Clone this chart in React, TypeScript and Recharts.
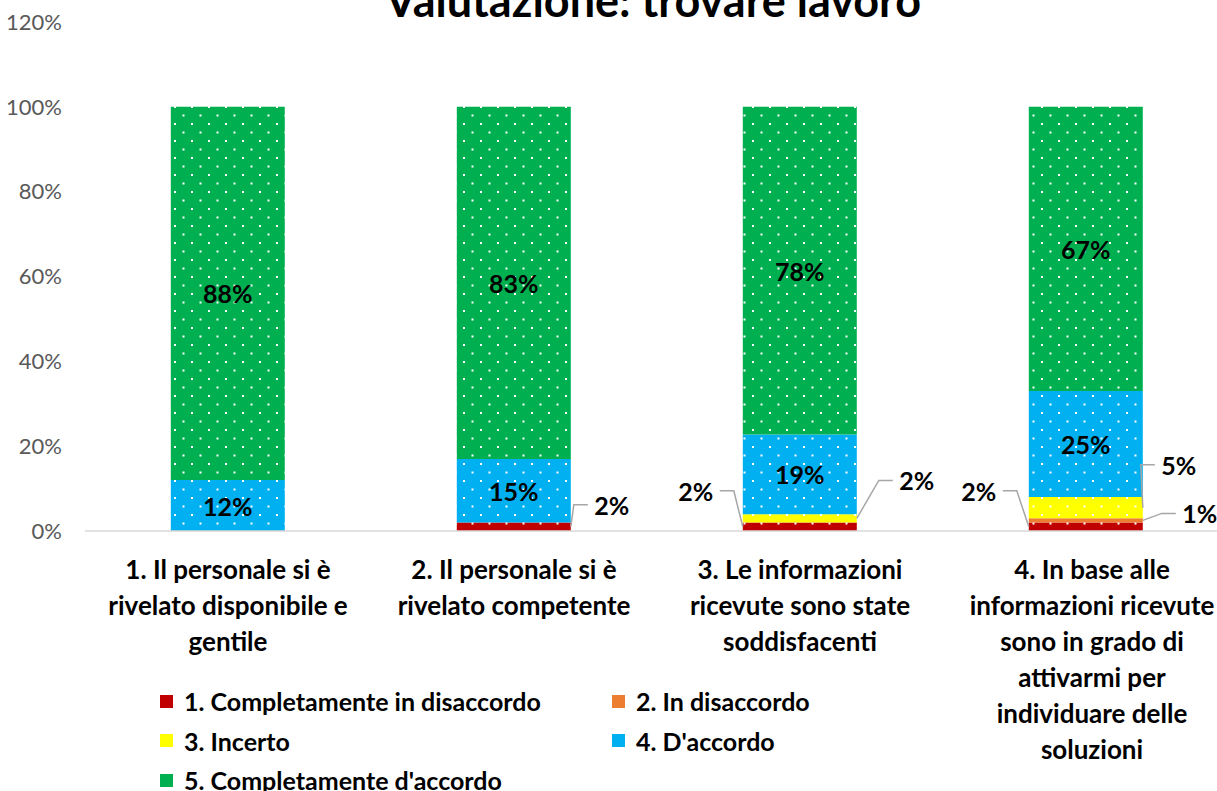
import React from "react";
import { BarChart, Bar, XAxis, YAxis, LabelList, Legend } from "recharts";

const categories = [
  "1. Il personale si è rivelato disponibile e gentile",
  "2. Il personale si è rivelato competente",
  "3. Le informazioni ricevute sono state soddisfacenti",
  "4. In base alle informazioni ricevute sono in grado di attivarmi per individuare delle soluzioni",
];

const tickLines = [
  ["1. Il personale si è", "rivelato disponibile e", "gentile"],
  ["2. Il personale si è", "rivelato competente"],
  ["3. Le informazioni", "ricevute sono state", "soddisfacenti"],
  ["4. In base alle", "informazioni ricevute", "sono in grado di", "attivarmi per", "individuare delle", "soluzioni"],
];

const seriesNames = [
  "1. Completamente in disaccordo",
  "2. In disaccordo",
  "3. Incerto",
  "4. D'accordo",
  "5. Completamente d'accordo",
];

const completamenteDisaccordo = [0, 2, 2, 2];
const inDisaccordo = [0, 0, 0, 1];
const incerto = [0, 0, 2, 5];
const dAccordo = [12, 15, 19, 25];
const completamenteAccordo = [88, 83, 78, 67];

const yTicks = [0, 20, 40, 60, 80, 100, 120];

const COLORS = ["#C00000", "#ED7D31", "#FFFF00", "#00B0F0", "#00B050"];
const KEYS = ["s1", "s2", "s3", "s4", "s5"];

// 100% stacked: bar heights are normalised per category, labels show the read values
const data = categories.map((name, i) => {
  const raw = [
    completamenteDisaccordo[i],
    inDisaccordo[i],
    incerto[i],
    dAccordo[i],
    completamenteAccordo[i],
  ];
  const tot = raw.reduce((a, b) => a + b, 0);
  const row: any = { name };
  KEYS.forEach((k, j) => {
    row[k] = (raw[j] / tot) * 100;
    row["r" + k] = raw[j];
  });
  return row;
});

const FONT = "Lato, 'Open Sans', sans-serif";

// small segments get their label outside the bar, with a leader line
const outside: { [k: string]: { dx: number; dy: number } } = {
  "0-1": { dx: 41, dy: -22 },
  "0-2": { dx: -47, dy: -36 },
  "2-2": { dx: 60, dy: -38 },
  "0-3": { dx: -50, dy: -36 },
  "1-3": { dx: 57, dy: -7 },
  "2-3": { dx: 36, dy: -43 },
};

const makeLabel = (s: number) => (props: any) => {
  const { x, y, width, height, value } = props;
  const [ci, raw] = String(value).split("|");
  let idx = Number(ci);
  if (!(idx >= 0)) idx = Math.floor((x - 85) / 286);
  const v = Number(raw);
  if (!v) return null;
  const text = `${v}%`;
  const pos = outside[`${s}-${idx}`];
  if (!pos) {
    return (
      <text
        x={x + width / 2}
        y={y + height / 2}
        textAnchor="middle"
        dominantBaseline="central"
        fontFamily={FONT}
        fontWeight={700}
        fontSize={25}
        fill="#000"
      >
        {text}
      </text>
    );
  }
  const side = pos.dx > 0 ? 1 : -1;
  const ax = side > 0 ? x + width : x;
  const ay = y + height / 2;
  const lx = ax + pos.dx;
  const ly = ay + pos.dy;
  const edge = lx - side * 24;
  const elbow = edge - side * 14;
  return (
    <g>
      <polyline
        points={`${ax},${ay} ${elbow},${ly} ${edge},${ly}`}
        fill="none"
        stroke="#A6A6A6"
        strokeWidth={1.5}
      />
      <text
        x={lx}
        y={ly}
        textAnchor="middle"
        dominantBaseline="central"
        fontFamily={FONT}
        fontWeight={700}
        fontSize={25}
        fill="#000"
      >
        {text}
      </text>
    </g>
  );
};

const CategoryTick = (props: any) => {
  const { x, y, index } = props;
  const lines = tickLines[index] || [];
  const shift = index === 3 ? 6 : 0;
  return (
    <g>
      {lines.map((l, i) => (
        <text
          key={i}
          x={x + shift}
          y={y + 30 + i * 36}
          textAnchor="middle"
          dominantBaseline="central"
          fontFamily={FONT}
          fontWeight={700}
          fontSize={26}
          fill="#000"
        >
          {l}
        </text>
      ))}
    </g>
  );
};

const LegendContent = () => (
  <div style={{ position: "relative", width: 700, height: 110, fontFamily: FONT }}>
    {seriesNames.map((n, i) => (
      <div
        key={n}
        style={{
          position: "absolute",
          left: (i % 2) * 452,
          top: Math.floor(i / 2) * 39.5,
          height: 30,
          lineHeight: "30px",
          display: "flex",
          alignItems: "center",
          fontWeight: 700,
          fontSize: 25,
          color: "#000",
          whiteSpace: "nowrap",
        }}
      >
        <span
          style={{
            display: "inline-block",
            width: 13,
            height: 13,
            background: COLORS[i],
            marginRight: 11,
          }}
        />
        {n}
      </div>
    ))}
  </div>
);

export default function App() {
  return (
    <div
      style={{
        position: "absolute",
        left: 0,
        top: 0,
        width: 1217,
        height: 791,
        overflow: "hidden",
        background: "#fff",
      }}
    >
      <div
        style={{
          position: "absolute",
          left: 0,
          width: 1306,
          top: -27,
          textAlign: "center",
          fontFamily: FONT,
          fontWeight: 700,
          fontSize: 45,
          color: "#000",
          zIndex: 2,
          whiteSpace: "nowrap",
        }}
      >
        Valutazione: trovare lavoro
      </div>
      <BarChart
        width={1240}
        height={791}
        data={data}
        margin={{ top: 22, right: 11, bottom: 0, left: 0 }}
        barCategoryGap="30%"
      >
        <defs>
          {COLORS.map((c, i) => (
            <pattern
              key={c}
              id={`dots${i}`}
              width={17}
              height={17}
              patternUnits="userSpaceOnUse"
            >
              <rect width={17} height={17} fill={c} />
              <rect x={4} y={4} width={2} height={2} fill="#fff" />
              <rect x={12.5} y={12.5} width={2} height={2} fill="#fff" />
            </pattern>
          ))}
        </defs>
        <XAxis
          dataKey="name"
          height={260}
          interval={0}
          tickLine={false}
          axisLine={{ stroke: "#D9D9D9", strokeWidth: 1.5 }}
          tick={<CategoryTick />}
        />
        <YAxis
          width={85}
          domain={[0, 120]}
          ticks={yTicks}
          axisLine={false}
          tickLine={false}
          tickSize={0}
          tickMargin={23}
          tickFormatter={(v: number) => `${v}%`}
          tick={{ fontFamily: FONT, fontSize: 22, fill: "#595959" }}
        />
        <Legend
          layout="horizontal"
          verticalAlign="middle"
          wrapperStyle={{ left: 160, top: 686, width: 700 }}
          content={<LegendContent />}
        />
        {KEYS.map((k, i) => (
          <Bar
            key={k}
            dataKey={k}
            name={seriesNames[i]}
            stackId="a"
            fill={`url(#dots${i})`}
            isAnimationActive={false}
          >
            <LabelList
              valueAccessor={(entry: any) =>
                `${categories.indexOf(entry?.payload?.name)}|${entry?.payload?.["r" + k]}`
              }
              content={makeLabel(i)}
            />
          </Bar>
        ))}
      </BarChart>
    </div>
  );
}
